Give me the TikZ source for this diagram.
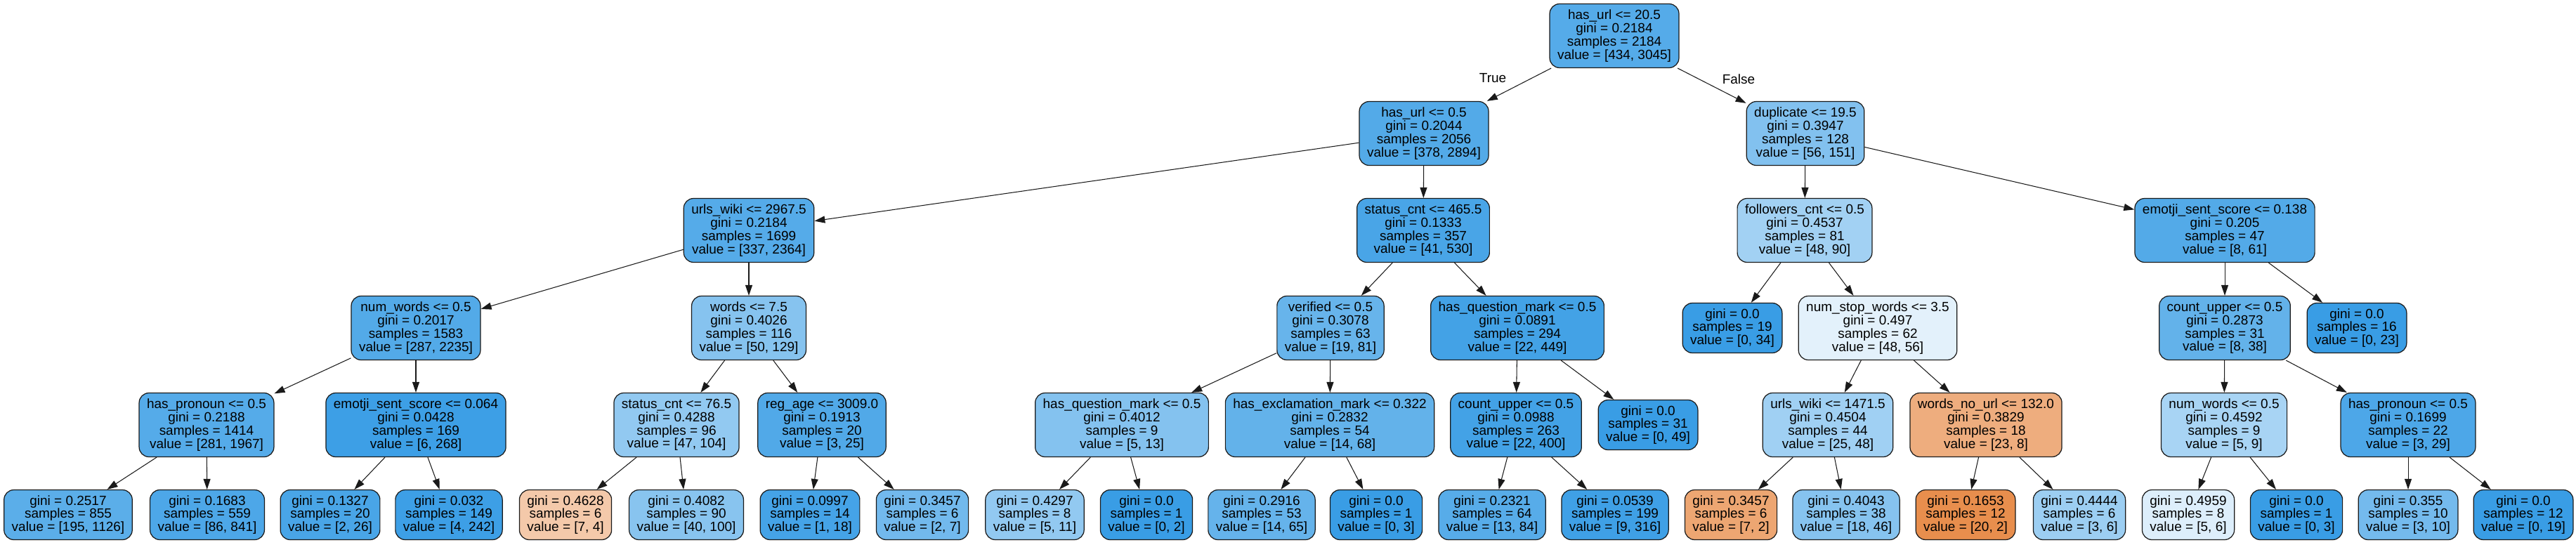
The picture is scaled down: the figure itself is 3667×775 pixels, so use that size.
\documentclass[tikz,border=0pt]{standalone}
\usepackage{fontspec}
\setmainfont{Liberation Sans}
\usepackage{xcolor}
\usepackage{tikz}
\usetikzlibrary{arrows.meta}
\definecolor{TreeBlue}{HTML}{399DE5}
\definecolor{TreeOrange}{HTML}{E58139}
\definecolor{TreeLine}{HTML}{1A1A1A}

\begin{document}
\begin{tikzpicture}[x=0.02cm,y=-0.02cm,
		tbox/.style={draw=TreeLine,line width=0.7pt,rounded corners=0.28cm,align=center,inner xsep=0.22cm,inner ysep=0cm,font=\fontsize{10.8}{10.7}\selectfont},
		testbox/.style={tbox,minimum height=1.82cm},
		leafbox/.style={tbox,minimum height=1.42cm},
		treearrow/.style={-{Triangle[length=0.3cm,width=0.2cm]},line width=0.6pt,TreeLine}]
		\useasboundingbox (0,0) rectangle (3667,775);
		\node[testbox,fill=TreeBlue!86] (n0) at (2298,51) {has\_url <= 20.5\\gini = 0.2184\\samples = 2184\\value = [434, 3045]};
		\node[testbox,fill=TreeBlue!87] (n1) at (2027,190) {has\_url <= 0.5\\gini = 0.2044\\samples = 2056\\value = [378, 2894]};
		\node[testbox,fill=TreeBlue!63] (n30) at (2570,190) {duplicate <= 19.5\\gini = 0.3947\\samples = 128\\value = [56, 151]};
		\node[testbox,fill=TreeBlue!86] (n2) at (1066,328) {urls\_wiki <= 2967.5\\gini = 0.2184\\samples = 1699\\value = [337, 2364]};
		\node[testbox,fill=TreeBlue!92] (n17) at (2026,328) {status\_cnt <= 465.5\\gini = 0.1333\\samples = 357\\value = [41, 530]};
		\node[testbox,fill=TreeBlue!47] (n31) at (2569,328) {followers\_cnt <= 0.5\\gini = 0.4537\\samples = 81\\value = [48, 90]};
		\node[testbox,fill=TreeBlue!87] (n40) at (3167,328) {emotji\_sent\_score <= 0.138\\gini = 0.205\\samples = 47\\value = [8, 61]};
		\node[testbox,fill=TreeBlue!87] (n3) at (592,467) {num\_words <= 0.5\\gini = 0.2017\\samples = 1583\\value = [287, 2235]};
		\node[testbox,fill=TreeBlue!61] (n10) at (1066,467) {words <= 7.5\\gini = 0.4026\\samples = 116\\value = [50, 129]};
		\node[testbox,fill=TreeBlue!77] (n18) at (1894,467) {verified <= 0.5\\gini = 0.3078\\samples = 63\\value = [19, 81]};
		\node[testbox,fill=TreeBlue!95] (n25) at (2160,467) {has\_question\_mark <= 0.5\\gini = 0.0891\\samples = 294\\value = [22, 449]};
		\node[leafbox,fill=TreeBlue] (n32) at (2466,467) {gini = 0.0\\samples = 19\\value = [0, 34]};
		\node[testbox,fill=TreeBlue!14] (n33) at (2673,467) {num\_stop\_words <= 3.5\\gini = 0.497\\samples = 62\\value = [48, 56]};
		\node[testbox,fill=TreeBlue!79] (n41) at (3167,467) {count\_upper <= 0.5\\gini = 0.2873\\samples = 31\\value = [8, 38]};
		\node[leafbox,fill=TreeBlue] (n48) at (3355,467) {gini = 0.0\\samples = 16\\value = [0, 23]};
		\node[testbox,fill=TreeBlue!86] (n4) at (294,605) {has\_pronoun <= 0.5\\gini = 0.2188\\samples = 1414\\value = [281, 1967]};
		\node[testbox,fill=TreeBlue!98] (n7) at (592,605) {emotji\_sent\_score <= 0.064\\gini = 0.0428\\samples = 169\\value = [6, 268]};
		\node[testbox,fill=TreeBlue!55] (n11) at (963,605) {status\_cnt <= 76.5\\gini = 0.4288\\samples = 96\\value = [47, 104]};
		\node[testbox,fill=TreeBlue!88] (n14) at (1170,605) {reg\_age <= 3009.0\\gini = 0.1913\\samples = 20\\value = [3, 25]};
		\node[testbox,fill=TreeBlue!62] (n19) at (1597,605) {has\_question\_mark <= 0.5\\gini = 0.4012\\samples = 9\\value = [5, 13]};
		\node[testbox,fill=TreeBlue!79] (n22) at (1893,605) {has\_exclamation\_mark <= 0.322\\gini = 0.2832\\samples = 54\\value = [14, 68]};
		\node[testbox,fill=TreeBlue!95] (n26) at (2158,605) {count\_upper <= 0.5\\gini = 0.0988\\samples = 263\\value = [22, 400]};
		\node[leafbox,fill=TreeBlue] (n29) at (2346,605) {gini = 0.0\\samples = 31\\value = [0, 49]};
		\node[testbox,fill=TreeBlue!48] (n34) at (2602,605) {urls\_wiki <= 1471.5\\gini = 0.4504\\samples = 44\\value = [25, 48]};
		\node[testbox,fill=TreeOrange!65] (n37) at (2827,605) {words\_no\_url <= 132.0\\gini = 0.3829\\samples = 18\\value = [23, 8]};
		\node[testbox,fill=TreeBlue!44] (n42) at (3166,605) {num\_words <= 0.5\\gini = 0.4592\\samples = 9\\value = [5, 9]};
		\node[testbox,fill=TreeBlue!90] (n45) at (3428,605) {has\_pronoun <= 0.5\\gini = 0.1699\\samples = 22\\value = [3, 29]};
		\node[leafbox,fill=TreeBlue!83] (n5) at (97,733) {gini = 0.2517\\samples = 855\\value = [195, 1126]};
		\node[leafbox,fill=TreeBlue!90] (n6) at (295,733) {gini = 0.1683\\samples = 559\\value = [86, 841]};
		\node[leafbox,fill=TreeBlue!92] (n8) at (470,733) {gini = 0.1327\\samples = 20\\value = [2, 26]};
		\node[leafbox,fill=TreeBlue!98] (n9) at (639,733) {gini = 0.032\\samples = 149\\value = [4, 242]};
		\node[leafbox,fill=TreeOrange!43] (n12) at (805,733) {gini = 0.4628\\samples = 6\\value = [7, 4]};
		\node[leafbox,fill=TreeBlue!60] (n13) at (977,733) {gini = 0.4082\\samples = 90\\value = [40, 100]};
		\node[leafbox,fill=TreeBlue!94] (n15) at (1153,733) {gini = 0.0997\\samples = 14\\value = [1, 18]};
		\node[leafbox,fill=TreeBlue!71] (n16) at (1313,733) {gini = 0.3457\\samples = 6\\value = [2, 7]};
		\node[leafbox,fill=TreeBlue!55] (n20) at (1473,733) {gini = 0.4297\\samples = 8\\value = [5, 11]};
		\node[leafbox,fill=TreeBlue] (n21) at (1632,733) {gini = 0.0\\samples = 1\\value = [0, 2]};
		\node[leafbox,fill=TreeBlue!78] (n23) at (1796,733) {gini = 0.2916\\samples = 53\\value = [14, 65]};
		\node[leafbox,fill=TreeBlue] (n24) at (1959,733) {gini = 0.0\\samples = 1\\value = [0, 3]};
		\node[leafbox,fill=TreeBlue!85] (n27) at (2124,733) {gini = 0.2321\\samples = 64\\value = [13, 84]};
		\node[leafbox,fill=TreeBlue!97] (n28) at (2299,733) {gini = 0.0539\\samples = 199\\value = [9, 316]};
		\node[leafbox,fill=TreeOrange!71] (n35) at (2464,733) {gini = 0.3457\\samples = 6\\value = [7, 2]};
		\node[leafbox,fill=TreeBlue!61] (n36) at (2628,733) {gini = 0.4043\\samples = 38\\value = [18, 46]};
		\node[leafbox,fill=TreeOrange!90] (n38) at (2798,733) {gini = 0.1653\\samples = 12\\value = [20, 2]};
		\node[leafbox,fill=TreeBlue!50] (n39) at (2960,733) {gini = 0.4444\\samples = 6\\value = [3, 6]};
		\node[leafbox,fill=TreeBlue!17] (n43) at (3115,733) {gini = 0.4959\\samples = 8\\value = [5, 6]};
		\node[leafbox,fill=TreeBlue] (n44) at (3269,733) {gini = 0.0\\samples = 1\\value = [0, 3]};
		\node[leafbox,fill=TreeBlue!70] (n46) at (3428,733) {gini = 0.355\\samples = 10\\value = [3, 10]};
		\node[leafbox,fill=TreeBlue] (n47) at (3592,733) {gini = 0.0\\samples = 12\\value = [0, 19]};
		\foreach \a/\b in {n0/n1,n0/n30,n1/n2,n1/n17,n2/n3,n2/n10,n3/n4,n3/n7,n4/n5,n4/n6,n7/n8,n7/n9,n10/n11,n10/n14,n11/n12,n11/n13,n14/n15,n14/n16,n17/n18,n17/n25,n18/n19,n18/n22,n19/n20,n19/n21,n22/n23,n22/n24,n25/n26,n25/n29,n26/n27,n26/n28,n30/n31,n30/n40,n31/n32,n31/n33,n33/n34,n33/n37,n34/n35,n34/n36,n37/n38,n37/n39,n40/n41,n40/n48,n41/n42,n41/n45,n42/n43,n42/n44,n45/n46,n45/n47}
		\draw[treearrow] (\a) -- (\b);
		\node[font=\fontsize{10.8}{10.7}\selectfont] (truelbl) at (2125,111) {True};
		\node[font=\fontsize{10.8}{10.7}\selectfont] (falselbl) at (2475,113) {False};
	\end{tikzpicture}
\end{document}
